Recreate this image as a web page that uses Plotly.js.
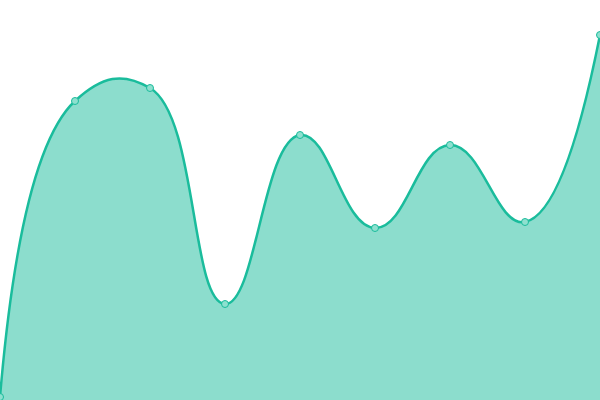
<!DOCTYPE html>
<html>
<head>
<meta charset="utf-8">
<script src="https://cdn.plot.ly/plotly-3.0.1.min.js"></script>
<style>
html, body { margin: 0; padding: 0; background: #fff; }
#chart { width: 600px; height: 400px; }
</style>
</head>
<body>
<div id="chart"></div>
<script>
let xValues = [0, 1, 2, 3, 4, 5, 6, 7, 8];
let yValues = [3, 299, 312, 96, 265, 172, 255, 178, 365];

function drawArea() {
	let trace1 = {
		type: 'scatter',
		x: xValues,
		y: yValues,
		mode: 'lines+markers',
		fill: 'tozeroy',
		fillcolor: 'rgba(26,188,156,0.5)',
		line: {color: '#1abc9c', width: 2.5, shape: 'spline', smoothing: 1.3},
		marker: {size: 7, color: '#8ee0cf', line: {color: '#1abc9c', width: 1}},
		hoverinfo: 'none'
	};
	let layout = {
		width: 600,
		height: 400,
		margin: {l: 0, r: 0, t: 0, b: 0},
		paper_bgcolor: '#fff',
		plot_bgcolor: '#fff',
		showlegend: false,
		xaxis: {range: [0, 8], visible: false, fixedrange: true},
		yaxis: {range: [0, 400], visible: false, fixedrange: true}
	};
	Plotly.newPlot('chart', [trace1], layout, {displayModeBar: false, staticPlot: true});
}

drawArea();
</script>
</body>
</html>
